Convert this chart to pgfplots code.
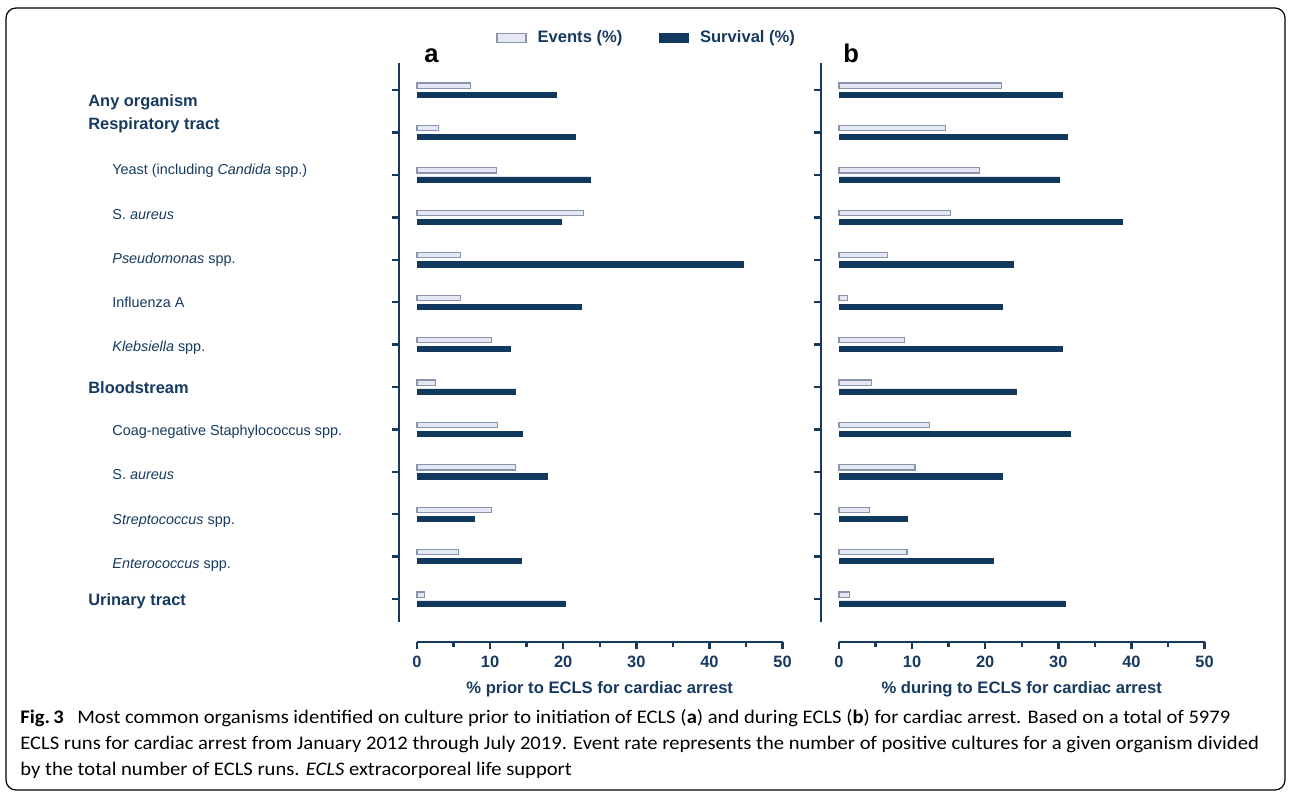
\documentclass[border=0pt]{standalone}
\usepackage{fontspec}
\setmainfont{Liberation Sans}
\newfontfamily\capfont[FakeStretch=1.073]{Carlito}
\usepackage{pgfplots}
\usepackage{pgfplotstable}
\pgfplotsset{compat=1.18}

\definecolor{navy}{HTML}{163A5F}
\definecolor{survc}{HTML}{11385D}
\definecolor{evfill}{HTML}{E4E8F5}
\definecolor{evdraw}{HTML}{8A95AC}

% pos: 12 = top row (Any organism) ... 0 = bottom row (Urinary tract)
% a = prior to ECLS, b = during ECLS
\pgfplotstableread{
pos a    b
12  7.3  22.2
11  2.9  14.6
10  10.9 19.2
9   22.8 15.3
8   5.9  6.6
7   5.9  1.2
6   10.2 9.0
5   2.5  4.4
4   11.0 12.4
3   13.5 10.4
2   10.2 4.2
1   5.7  9.3
0   1.0  1.4
}\events

\pgfplotstableread{
pos a    b
12  19.1 30.5
11  21.6 31.2
10  23.7 30.2
9   19.7 38.8
8   44.7 23.8
7   22.5 22.3
6   12.7 30.5
5   13.5 24.2
4   14.4 31.6
3   17.8 22.4
2   7.9  9.3
1   14.3 21.1
0   20.3 30.9
}\surv

\pgfplotsset{
  panel/.style={
    scale only axis, width=182.75pt, height=279.5pt,
    xmin=0, xmax=50, ymin=-0.54, ymax=12.64,
    axis lines=left,
    axis line style={-, line width=1.2pt, draw=navy},
    axis x line shift=10pt, axis y line shift=9pt,
    xtick={0,10,...,50}, minor x tick num=1,
    ytick={0,...,12}, yticklabels={},
    tick align=outside, major tick length=3.5pt, minor tick length=2.5pt,
    every tick/.style={line width=1.2pt, draw=navy},
    /pgf/number format/assume math mode=true,
    ticklabel style={font=\bfseries\fontsize{8.2}{10}\selectfont, text=navy},
    xlabel style={font=\bfseries\fontsize{8.3}{10}\selectfont, text=navy},
    xbar, bar width=2.6pt, bar shift=0pt,
    clip=false,
  },
  evstyle/.style={fill=evfill, draw=evdraw, line width=0.6pt},
  svstyle/.style={fill=survc, draw=survc, line width=0.3pt},
}

\begin{document}
\begin{tikzpicture}[x=0.5pt, y=0.5pt]
\useasboundingbox (0,0) rectangle (1290,793);

% figure frame
\draw[line width=0.6pt, rounded corners=5pt] (6,3) rectangle (1285,785);

% panel a
\begin{axis}[panel, at={(208.5pt,85.5pt)}, anchor=south west,
    xlabel={\% prior to ECLS for cardiac arrest},
    legend style={at={(0.216,1.045)}, anchor=west, draw=none, fill=none,
      legend columns=2, font=\bfseries\fontsize{8.3}{10}\selectfont, text=navy,
      inner sep=0pt,
      /tikz/every odd column/.append style={column sep=3.5pt},
      /tikz/every even column/.append style={column sep=16.5pt}},
    legend image code/.code={\draw[#1] (0pt,-2.25pt) rectangle (14.5pt,2.25pt);},
  ]
  \addplot[evstyle] table[x=a, y expr=\thisrow{pos}+0.106] {\events};
  \addplot[svstyle] table[x=a, y expr=\thisrow{pos}-0.106] {\surv};
  \legend{Events (\%), Survival (\%)}
\end{axis}

% panel b
\begin{axis}[panel, at={(419.5pt,85.5pt)}, anchor=south west,
    xlabel={\% during to ECLS for cardiac arrest}]
  \addplot[evstyle] table[x=b, y expr=\thisrow{pos}+0.106] {\events};
  \addplot[svstyle] table[x=b, y expr=\thisrow{pos}-0.106] {\surv};
\end{axis}

% panel letters
\node[anchor=base west, inner sep=0pt, font=\bfseries\fontsize{12.8}{14}\selectfont] at (424,730.5) {a};
\node[anchor=base west, inner sep=0pt, font=\bfseries\fontsize{12.8}{14}\selectfont] at (843,730.5) {b};

% category labels
\begin{scope}[every node/.style={anchor=base west, inner sep=0pt, text=navy}]
\tikzset{hd/.style={font=\bfseries\fontsize{8.2}{10}\selectfont},
         sb/.style={font=\fontsize{7.2}{9}\selectfont}}
\node[hd] at (88,686.5) {Any organism};
\node[hd] at (88,663.5) {Respiratory tract};
\node[sb] at (112,618) {Yeast (including \textit{Candida} spp.)};
\node[sb] at (112,573.5) {S. \textit{aureus}};
\node[sb] at (112,529.5) {\textit{Pseudomonas} spp.};
\node[sb] at (112,485.5) {Influenza A};
\node[sb] at (112,441.5) {\textit{Klebsiella} spp.};
\node[hd] at (88,399.5) {Bloodstream};
\node[sb] at (112,357) {Coag-negative Staphylococcus spp.};
\node[sb] at (112,313) {S. \textit{aureus}};
\node[sb] at (112,268.5) {\textit{Streptococcus} spp.};
\node[sb] at (112,225) {\textit{Enterococcus} spp.};
\node[hd] at (88,187.5) {Urinary tract};
\end{scope}

% caption
\begin{scope}[every node/.style={anchor=base west, inner sep=0pt,
    font=\capfont\fontsize{9.6}{11}\selectfont}]
\node at (20,70) {{\bfseries Fig.\,3}\hspace{0.7em}Most common organisms identified on culture prior to initiation of ECLS (\textbf{a}) and during ECLS (\textbf{b}) for cardiac arrest. Based on a total of 5979};
\node at (20,44) {ECLS runs for cardiac arrest from January 2012 through July 2019. Event rate represents the number of positive cultures for a given organism divided};
\node at (20,18) {by the total number of ECLS runs. \textit{ECLS} extracorporeal life support};
\end{scope}
\end{tikzpicture}
\end{document}
